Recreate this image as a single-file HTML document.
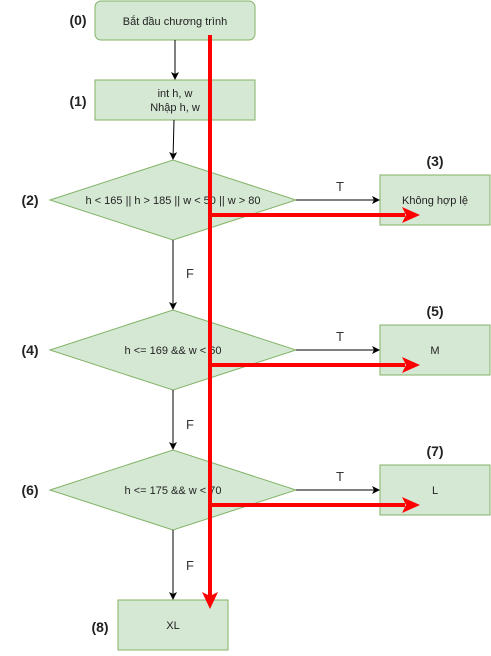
<!DOCTYPE html>
<html><head><style>body{margin:0;background:#fff}</style></head><body>
<svg width="491" height="651" xmlns="http://www.w3.org/2000/svg" font-family="Liberation Sans, sans-serif">
<defs>
<marker id="a" markerWidth="8" markerHeight="8" refX="7" refY="4" orient="auto" markerUnits="userSpaceOnUse"><path d="M0,0 L8,4 L0,8 L2,4z" fill="#000"/></marker>
</defs>
<g fill="#d5e8d4" stroke="#82b366" stroke-width="1">
<rect x="95" y="1" width="160" height="39" rx="6"/>
<rect x="95" y="80" width="160" height="40"/>
<polygon points="50,200 173,160 296,200 173,240"/>
<rect x="380" y="175" width="110" height="50"/>
<polygon points="50,350 173,310 296,350 173,390"/>
<rect x="380" y="325" width="110" height="50"/>
<polygon points="50,490 173,450 296,490 173,530"/>
<rect x="380" y="465" width="110" height="50"/>
<rect x="118" y="600" width="110" height="50"/>
</g>
<g stroke="#000" stroke-width="1" marker-end="url(#a)">
<line x1="175" y1="40" x2="175" y2="79"/>
<line x1="174" y1="120" x2="173" y2="159"/>
<line x1="296" y1="200" x2="379" y2="200"/>
<line x1="173" y1="240" x2="173" y2="309"/>
<line x1="296" y1="350" x2="379" y2="350"/>
<line x1="173" y1="390" x2="173" y2="449"/>
<line x1="296" y1="490" x2="379" y2="490"/>
<line x1="173" y1="530" x2="173" y2="599"/>
</g>
<g font-size="11" fill="#222" text-anchor="middle">
<text x="175" y="25">Bắt đầu chương trình</text>
<text x="175" y="97">int h, w</text>
<text x="175" y="111">Nhập h, w</text>
<text x="173" y="204">h &lt; 165 || h &gt; 185 || w &lt; 50 || w &gt; 80</text>
<text x="435" y="204">Không hợp lệ</text>
<text x="173" y="354">h &lt;= 169 &amp;&amp; w &lt; 60</text>
<text x="435" y="354">M</text>
<text x="173" y="494">h &lt;= 175 &amp;&amp; w &lt; 70</text>
<text x="435" y="494">L</text>
<text x="173" y="629">XL</text>
</g>
<g font-size="13" fill="#333" text-anchor="middle">
<text x="340" y="191">T</text><text x="340" y="341">T</text><text x="340" y="481">T</text>
<text x="190" y="278">F</text><text x="190" y="429">F</text><text x="190" y="570">F</text>
</g>
<g font-size="14" font-weight="bold" fill="#222" text-anchor="middle">
<text x="78" y="25">(0)</text><text x="78" y="106">(1)</text><text x="30" y="205">(2)</text>
<text x="435" y="166">(3)</text><text x="30" y="355">(4)</text><text x="435" y="316">(5)</text>
<text x="30" y="495">(6)</text><text x="435" y="456">(7)</text><text x="100" y="632">(8)</text>
</g>
<g stroke="red" stroke-width="4" fill="none">
<line x1="210" y1="35" x2="210" y2="596"/>
<line x1="210" y1="215" x2="405" y2="215"/>
<line x1="210" y1="365" x2="405" y2="365"/>
<line x1="210" y1="505" x2="405" y2="505"/>
</g>
<g fill="red">
<polygon points="202,592 210,609 218,592 210,596"/>
<polygon points="402,207 420,215 402,223 406,215"/>
<polygon points="402,357 420,365 402,373 406,365"/>
<polygon points="402,497 420,505 402,513 406,505"/>
</g>
</svg>
</body></html>
